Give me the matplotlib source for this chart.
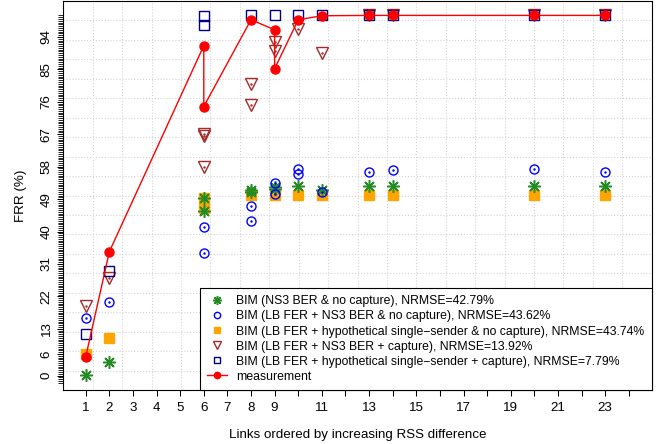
import matplotlib
matplotlib.use('Agg')
import matplotlib.pyplot as plt
import numpy as np

plt.rcParams['font.family'] = ['Liberation Sans', 'DejaVu Sans']

# Links (x) and FRR in % (y)
ns3_x = [1, 2, 6, 6, 8, 8, 9, 9, 10, 11, 13, 14, 20, 23]
ns3_y = [0.2, 3.9, 49.3, 45.8, 51.4, 51.0, 52.3, 51.8, 52.5, 51.5, 52.5, 52.5, 52.5, 52.5]

lbns3_x = [1, 2, 6, 6, 8, 8, 9, 9, 10, 10, 11, 13, 14, 20, 23]
lbns3_y = [16.1, 20.4, 41.2, 34.0, 47.2, 43.0, 53.6, 50.4, 57.3, 56.0, 51.1, 56.5, 57.0, 57.4, 56.4]

hyp_x = [1, 2, 6, 6, 8, 9, 10, 11, 13, 14, 20, 23]
hyp_y = [5.9, 10.5, 49.3, 46.5, 50.2, 50.2, 50.2, 50.2, 50.2, 50.2, 50.2, 50.2]

cap_x = [1, 2, 6, 6, 6, 8, 8, 9, 9, 10, 11, 13, 14, 20, 23]
cap_y = [19.2, 27.0, 67.2, 66.4, 58.0, 81.0, 75.0, 92.7, 90.0, 96.2, 89.7, 100, 100, 100, 100]

hypcap_x = [1, 2, 6, 6, 8, 9, 10, 11, 13, 14, 20, 23]
hypcap_y = [11.6, 29.1, 99.7, 97.4, 100, 100, 100, 100, 100, 100, 100, 100]

meas_x = [1, 2, 6, 6, 8, 9, 9, 10, 11, 13, 14, 20, 23]
meas_y = [5.2, 34.4, 91.6, 74.7, 98.8, 96.0, 85.2, 98.8, 99.9, 100, 100, 100, 100]

labels = ['BIM (NS3 BER & no capture), NRMSE=42.79%',
          'BIM (LB FER + NS3 BER & no capture), NRMSE=43.62%',
          'BIM (LB FER + hypothetical single\u2212sender & no capture), NRMSE=43.74%',
          'BIM (LB FER + NS3 BER + capture), NRMSE=13.92%',
          'BIM (LB FER + hypothetical single\u2212sender + capture), NRMSE=7.79%',
          'measurement']

xticks = list(range(1, 25))
xticklabels = [str(i) if (i <= 9 or i % 2 == 1) else '' for i in xticks]
yticks = [0, 6, 13, 22, 31, 40, 49, 58, 67, 76, 85, 94]

fig = plt.figure(figsize=(6.62, 4.44), dpi=100)
ax = fig.add_axes([63.3 / 662, 54 / 444, 588.4 / 662, 389 / 444])
xlim = (0.05, 24.97)
ylim = (-4, 104)
ax.set_xlim(*xlim)
ax.set_ylim(*ylim)

# grid like R's grid(20, 20)
for k in range(1, 20):
    ax.axvline(xlim[0] + k * (xlim[1] - xlim[0]) / 20, color='lightgray', ls=':', lw=0.8, zorder=0)
    ax.axhline(ylim[0] + k * (ylim[1] - ylim[0]) / 20, color='lightgray', ls=':', lw=0.8, zorder=0)

ax.plot(ns3_x, ns3_y, ls='none', marker=(8, 2, 0), ms=9, mew=1.1, color='forestgreen', label=labels[0], zorder=3)
ax.plot(lbns3_x, lbns3_y, ls='none', marker='o', ms=6.5, mfc='none', mew=1.0, color='blue', label=labels[1], zorder=3)
ax.plot(lbns3_x, lbns3_y, ls='none', marker='.', ms=1.5, color='blue', zorder=3)
ax.plot(hyp_x, hyp_y, ls='none', marker='s', ms=6.5, color='orange', label=labels[2], zorder=2)
ax.plot(cap_x, cap_y, ls='none', marker='v', ms=8, mfc='none', mew=1.0, color='brown', label=labels[3], zorder=3)
ax.plot(cap_x, cap_y, ls='none', marker='.', ms=1.5, color='brown', zorder=3)
ax.plot(hypcap_x, hypcap_y, ls='none', marker='s', ms=6.5, mfc='none', mew=1.0, color='navy', label=labels[4], zorder=3)
ax.plot(meas_x, meas_y, '-', color='red', lw=1.0, marker='o', ms=6.5, label=labels[5], zorder=4)

ax.set_xticks(xticks)
ax.set_xticklabels(xticklabels)
ax.set_yticks(yticks)
ax.set_yticklabels([str(v) for v in yticks], rotation=90, va='center')
ax.set_yticks(np.arange(-2, 100.5, 0.5), minor=True)
ax.tick_params(axis='both', which='major', direction='out', length=4.3, width=0.75, labelsize=9.6, pad=4.5)
ax.tick_params(axis='y', which='minor', direction='out', length=3.6, width=0.6)
ax.tick_params(axis='y', which='major', pad=3.5)
for s in ax.spines.values():
    s.set_linewidth(0.8)

ax.set_xlabel('Links ordered by increasing RSS difference', fontsize=9.6)
ax.set_ylabel('FRR (%)', fontsize=9.6)
ax.xaxis.set_label_coords(0.5, -0.10)
ax.yaxis.set_label_coords(-0.062, 0.5)

leg = ax.legend(loc='lower right', bbox_to_anchor=(1, 0), borderaxespad=0, fontsize=8.8,
                markerscale=0.7, borderpad=0.6, handlelength=1.6, handletextpad=0.75,
                labelspacing=0.25, fancybox=False, framealpha=1, edgecolor='black')
leg.get_frame().set_linewidth(0.8)

fig.savefig('out.png', dpi=100)
